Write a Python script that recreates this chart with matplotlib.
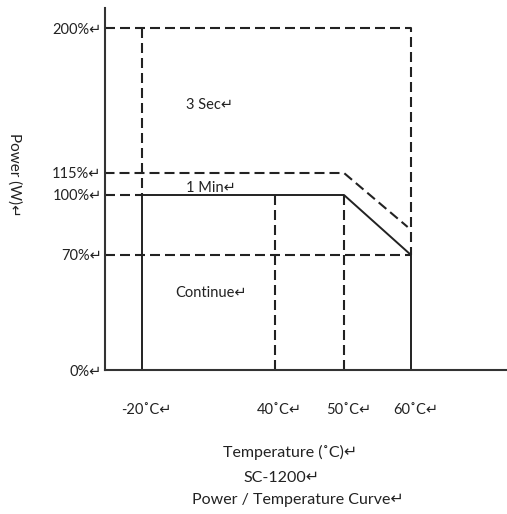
import matplotlib
matplotlib.use("Agg")
import matplotlib.pyplot as plt
import matplotlib.transforms as mtrans
import numpy as np

plt.rcParams['font.family'] = ['Lato', 'DejaVu Sans']

# curve data (temperature in C, power in %)
rated_t = [-20, -20, 50, 60, 60]
rated_p = [0, 100, 100, 70, 0]
peak_t = [-30, 50, 59.5]
peak_p = [115, 115, 84]
t_ticks = [-20, 40, 50, 60]
t_labels = ['-20˚C↵', '40˚C↵', '50˚C↵', '60˚C↵']
p_ticks = [0, 70, 100, 115, 200]
p_labels = ['0%↵', '70%↵', '100%↵', '115%↵', '200%↵']

# the drawing is not to scale, so use piecewise scales
x_src = [-30, -20, 40, 50, 60, 90]
x_dst = [0, 37.5, 170.5, 239.5, 306.5, 402.5]
y_src = [0, 70, 100, 115, 200, 205]
y_dst = [0, 115, 175, 197, 342, 362]

fx = (lambda v: np.interp(v, x_src, x_dst), lambda v: np.interp(v, x_dst, x_src))
fy = (lambda v: np.interp(v, y_src, y_dst), lambda v: np.interp(v, y_dst, y_src))

fig = plt.figure(figsize=(5.07, 5.14), dpi=100)
ax = fig.add_axes([104.5 / 507, 144 / 514, 402.5 / 507, 362 / 514])
ax.set_xscale('function', functions=fx)
ax.set_yscale('function', functions=fy)
ax.set_xlim(-30, 90)
ax.set_ylim(0, 205)

ink = '#222222'
dash = dict(color=ink, lw=1.5, ls=(0, (4.8, 2.4)))
solid = dict(color=ink, lw=1.4)

# dashed guides
ax.plot([-30, 60, 60], [200, 200, 70], **dash)
ax.plot([-20, -20], [200, 100], **dash)
ax.plot(peak_t, peak_p, **dash)
ax.plot([-30, -20], [100, 100], **dash)
ax.plot([-30, 60], [70, 70], **dash)
ax.plot([40, 40], [100, 0], **dash)
ax.plot([50, 50], [100, 0], **dash)

# rated curve
ax.plot(rated_t, rated_p, **solid)

for s in ['top', 'right']:
    ax.spines[s].set_visible(False)
for s in ['left', 'bottom']:
    ax.spines[s].set_color('#333333')
    ax.spines[s].set_linewidth(1.5)

ax.set_xticks(t_ticks)
ax.set_xticklabels(t_labels)
ax.set_yticks(p_ticks)
ax.set_yticklabels(p_labels)
ax.tick_params(axis='x', length=0, pad=24, labelsize=10.5, labelcolor=ink)
ax.tick_params(axis='y', length=0, pad=2, labelsize=10.5, labelcolor=ink)
ax.minorticks_off()
shift = mtrans.ScaledTranslation(0.045, 0, fig.dpi_scale_trans)
for lab in ax.get_xticklabels():
    lab.set_transform(lab.get_transform() + shift)

ax.text(0, 155, '3 Sec↵', fontsize=10.5, color=ink, va='center')
ax.text(0, 105, '1 Min↵', fontsize=10.5, color=ink, va='center')
ax.text(-5, 47, 'Continue↵', fontsize=10.5, color=ink, va='center')

fig.text(14 / 507, 1 - 175 / 514, 'Power (W)↵', rotation=270, fontsize=11,
         color=ink, ha='center', va='center')
fig.text(290 / 507, 1 - 452 / 514, 'Temperature (˚C)↵', fontsize=11.5,
         color=ink, ha='center', va='center')
fig.text(282 / 507, 1 - 478 / 514, 'SC-1200↵', fontsize=11.5,
         color=ink, ha='center', va='center')
fig.text(298 / 507, 1 - 500 / 514, 'Power / Temperature Curve↵', fontsize=11.5,
         color=ink, ha='center', va='center')

fig.savefig('out.png', dpi=100)
